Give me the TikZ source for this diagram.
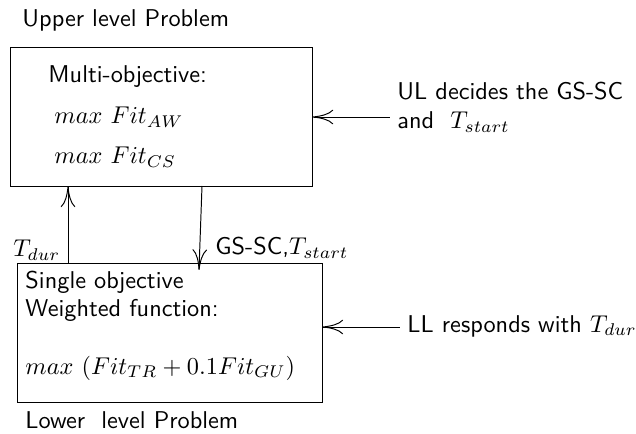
\documentclass[tikz,border=0pt]{standalone}
\usetikzlibrary{arrows.meta,positioning}
\tikzset{
	>={To[length=8.5pt,width=6pt]},thick,
	box/.style ={rectangle, draw, inner sep=0pt},
	txt/.style ={anchor=west, inner sep=0pt, font=\sffamily, align=left},
	flow/.style={->}
}

\begin{document}
\begin{tikzpicture}[x=0.4115pt,y=-0.4115pt]
    \useasboundingbox (0,0) rectangle (636,434);

    % upper level
    \node[txt] (upper) at (22,20) {Upper level Problem};
    \node[box, minimum width=123.9pt, minimum height=56.8pt] (ul) at (161.5,117) {};
    \node[txt] (multi) at (48,77) {Multi-objective:};
    \node[txt] (aw) at (54,117) {$max\ Fit_{AW}$};
    \node[txt] (cs) at (54,157) {$max\ Fit_{CS}$};

    % lower level
    \node[box, minimum width=125.5pt, minimum height=57.2pt] (ll) at (169.5,332.5) {};
    \node[txt] (single) at (25,282) {Single objective};
    \node[txt] (weighted) at (25,310) {Weighted function:};
    \node[txt] (obj) at (25,368) {$max\ (Fit_{TR}+0.1Fit_{GU})$};
    \node[txt] (lower) at (25,420) {Lower\ \ level Problem};

    % notes on the right
    \coordinate (ulin) at (390,117);
    \coordinate (llin) at (400,327);
    \node[txt] (ulnote) at (397,107) {UL decides the GS-SC\\and\ \ $T_{start}$};
    \node[txt] (llnote) at (407,326) {LL responds with $T_{dur}$};
    \path (ulin) edge[flow] (ul);
    \path (llin) edge[flow] (ll.east |- llin);

    % exchange between the levels
    \coordinate (durfoot) at (68,263);
    \coordinate (starttop) at (202,186);
    \coordinate (startfoot) at (199,270);
    \node[txt] (dur) at (13,250) {$T_{dur}$};
    \node[txt] (start) at (215,248) {GS-SC,$T_{start}$};
    \path (durfoot) edge[flow] (ul.south -| durfoot);
    \path (starttop) edge[flow] (startfoot);

\end{tikzpicture}
\end{document}
